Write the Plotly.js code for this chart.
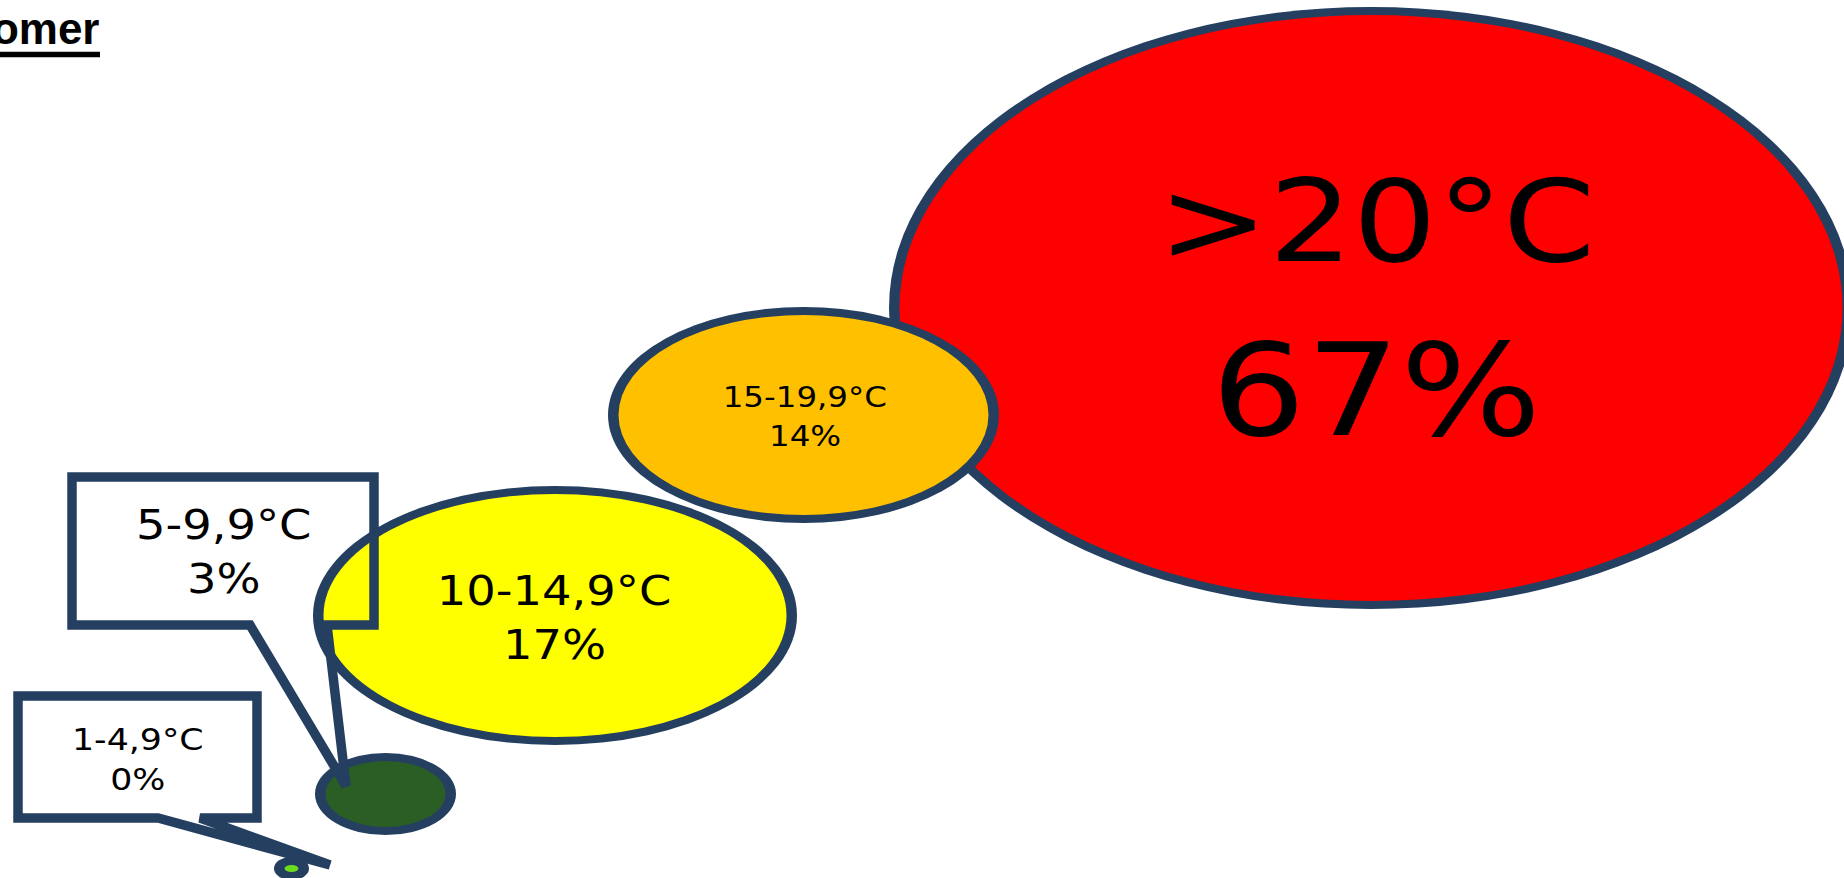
<!DOCTYPE html>
<html><head><meta charset="utf-8">
<script src="https://cdn.plot.ly/plotly-3.0.1.min.js"></script>
<style>html,body{margin:0;padding:0;background:#fff;overflow:hidden}</style>
</head><body>
<div id="chart" style="width:1844px;height:878px"></div>
<script>
// ---------- data ----------
const categories = ['1-4,9°C', '5-9,9°C', '10-14,9°C', '15-19,9°C', '>20°C'];
const shares = [0, 3, 17, 14, 67];
const titleText = 'Zomer';

// ---------- styles ----------
const fillColors = ['#6cdc1e', '#2b5e24', '#ffff00', '#ffc000', '#ff0000'];
const outlineColor = '#253f60';
const textFont = 'DejaVu Sans, Verdana, sans-serif';
const strokeX = 10.5, strokeY = 8;   // outline thickness (horizontal / vertical)
const textStretch = 1.16;

// ---------- layout geometry (px on the 1844x878 canvas) ----------
const bubbleBox = [
  {x0: 274, x1: 309, y0: 857, y1: 880},
  {x0: 315, x1: 456, y0: 753, y1: 835},
  {x0: 313, x1: 797, y0: 486, y1: 745},
  {x0: 608, x1: 999, y0: 307, y1: 523},
  {x0: 889, x1: 1853, y0: 7, y1: 609}
];
const labelPos = [
  {x: 138, y1: 739, y2: 779, s1: 30, s2: 30},
  {x: 223, y1: 525, y2: 579, s1: 40, s2: 40},
  {x: 554, y1: 591, y2: 645, s1: 40, s2: 40},
  {x: 805, y1: 397, y2: 436, s1: 28, s2: 28},
  {x: 1376, y1: 221, y2: 390, s1: 114, s2: 128}
];
const callouts = [
  {idx: 0, x0: 18, x1: 257, y0: 696, y1: 818, baseL: 158, baseR: 200, tip: [330, 865]},
  {idx: 1, x0: 72, x1: 374, y0: 477, y1: 625, baseL: 250, baseR: 327, tip: [346, 786]}
];

const shapes = [];
// bubbles: largest first so smaller ones overlap it
for (let i = categories.length - 1; i >= 0; i--) {
  const b = bubbleBox[i];
  shapes.push({type: 'circle', xref: 'x', yref: 'y', x0: b.x0, x1: b.x1, y0: b.y0, y1: b.y1,
    fillcolor: outlineColor, line: {width: 0}, layer: 'above'});
  shapes.push({type: 'circle', xref: 'x', yref: 'y', x0: b.x0 + strokeX, x1: b.x1 - strokeX,
    y0: b.y0 + strokeY, y1: b.y1 - strokeY, fillcolor: fillColors[i], line: {width: 0}, layer: 'above'});
}
// callout outlines (transparent)
callouts.forEach(c => {
  const p = `M ${c.x0} ${c.y0} L ${c.x1} ${c.y0} L ${c.x1} ${c.y1} L ${c.baseR} ${c.y1} ` +
            `L ${c.tip[0]} ${c.tip[1]} L ${c.baseL} ${c.y1} L ${c.x0} ${c.y1} Z`;
  shapes.push({type: 'path', xref: 'x', yref: 'y', path: p, fillcolor: 'rgba(0,0,0,0)',
    line: {color: outlineColor, width: 9.5}, layer: 'above'});
});
// title underline
shapes.push({type: 'line', xref: 'x', yref: 'y', x0: -10, x1: 100, y0: 54.5, y1: 54.5,
  line: {color: '#000', width: 5.5}, layer: 'above'});

const annotations = [];
categories.forEach((cat, i) => {
  const L = labelPos[i];
  annotations.push({x: L.x, y: L.y1, xref: 'x', yref: 'y', text: cat, showarrow: false,
    xanchor: 'center', yanchor: 'middle', font: {family: textFont, size: L.s1, color: '#000'}});
  annotations.push({x: L.x, y: L.y2, xref: 'x', yref: 'y', text: shares[i] + '%', showarrow: false,
    xanchor: 'center', yanchor: 'middle', font: {family: textFont, size: L.s2, color: '#000'}});
});
annotations.push({x: 101, y: 28, xref: 'x', yref: 'y', text: '<b>' + titleText + '</b>', showarrow: false,
  xanchor: 'right', yanchor: 'middle', font: {family: 'Liberation Sans, Arial, sans-serif', size: 44, color: '#000'}});

const layout = {
  width: 1844, height: 878,
  margin: {l: 0, r: 0, t: 0, b: 0, pad: 0},
  paper_bgcolor: '#ffffff', plot_bgcolor: '#ffffff',
  xaxis: {range: [0, 1844], visible: false, fixedrange: true},
  yaxis: {range: [878, 0], visible: false, fixedrange: true},
  showlegend: false,
  shapes: shapes,
  annotations: annotations
};

Plotly.newPlot('chart', [{type: 'scatter', x: [], y: [], hoverinfo: 'skip'}], layout,
  {staticPlot: true, displayModeBar: false}).then(() => {
  document.querySelectorAll('#chart .annotation-text').forEach(el => {
    if (el.textContent === titleText) return;
    const bb = el.getBBox();
    const cx = bb.x + bb.width / 2;
    el.setAttribute('transform', `translate(${cx},0) scale(${textStretch},1) translate(${-cx},0)`);
  });
});
</script>
</body></html>
